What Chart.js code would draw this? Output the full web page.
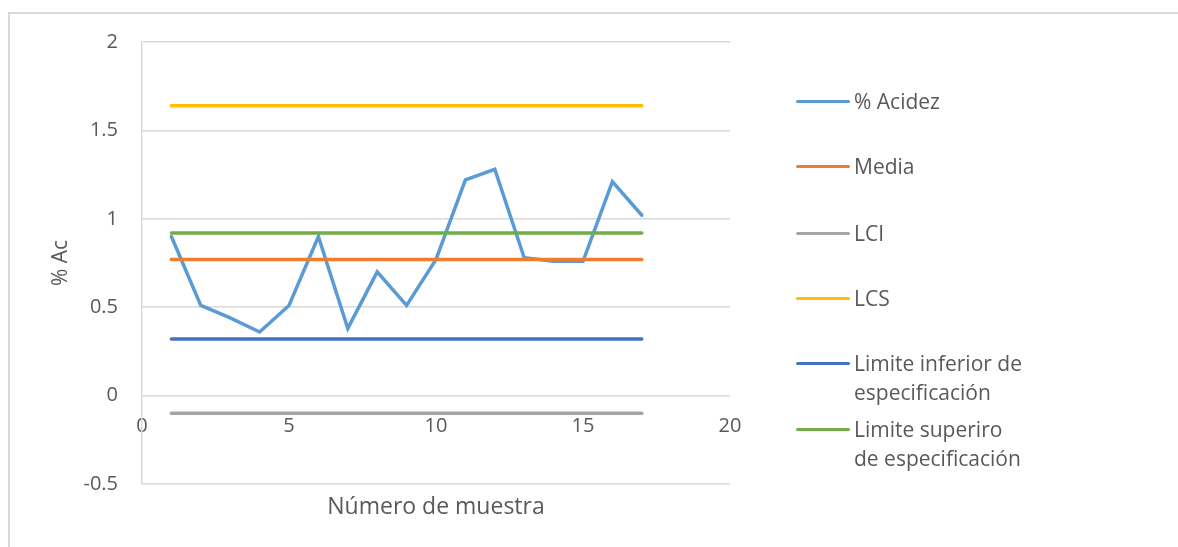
<!DOCTYPE html>
<html>
<head>
<meta charset="utf-8">
<script src="https://cdn.jsdelivr.net/npm/chart.js@4"></script>
<style>
  html, body { margin: 0; padding: 0; background: #fff; }
  #wrap { position: relative; width: 1178px; height: 547px; overflow: hidden; }
  #frame { position: absolute; left: 8px; top: 12px; width: 1180px; height: 560px;
           border-top: 2px solid #d9d9d9; border-left: 2px solid #d9d9d9; }
  #chart { position: absolute; left: 0; top: 0; }
  .legend { position: absolute; left: 796px; top: 0; font-family: "Open Sans", sans-serif;
            font-size: 21px; color: #595959; }
  .item { position: absolute; left: 0; white-space: nowrap; }
  .item .swatch { position: absolute; left: 0; width: 54px; height: 3.5px; border-radius: 2px; }
  .item .txt { position: absolute; left: 58px; line-height: 29px; }
</style>
</head>
<body>
<div id="wrap">
  <div id="frame"></div>
  <canvas id="chart" width="1178" height="547"></canvas>
  <div class="legend" id="legend"></div>
</div>
<script>
// sample number (x) and % acidez (y)
const sampleNumbers = [1, 2, 3, 4, 5, 6, 7, 8, 9, 10, 11, 12, 13, 14, 15, 16, 17];
const acidez = [0.90, 0.51, 0.44, 0.36, 0.51, 0.90, 0.38, 0.70, 0.51, 0.77, 1.22, 1.28, 0.78, 0.76, 0.76, 1.21, 1.02];

// control / specification limits (constant across samples)
const media = 0.77;
const lci = -0.10;
const lcs = 1.64;
const limiteInferior = 0.32;
const limiteSuperior = 0.92;

const xTicks = [0, 5, 10, 15, 20];
const yTicks = [-0.5, 0, 0.5, 1, 1.5, 2];

const seriesNames = ['% Acidez', 'Media', 'LCI', 'LCS', 'Limite inferior de\nespecificación', 'Limite superiro\nde especificación'];
const seriesColors = ['#5B9BD5', '#ED7D31', '#A5A5A5', '#FFC000', '#4472C4', '#70AD47'];

const fontFamily = '"Open Sans", sans-serif';
const textColor = '#595959';
const gridColor = '#d9d9d9';

const pts = vals => sampleNumbers.map((x, i) => ({ x, y: vals[i] }));
const flat = v => sampleNumbers.map(x => ({ x, y: v }));

const seriesData = [
    pts(acidez), flat(media), flat(lci), flat(lcs), flat(limiteInferior), flat(limiteSuperior)
];

const datasets = seriesData.map((d, i) => ({
    label: seriesNames[i],
    data: d,
    borderColor: seriesColors[i],
    backgroundColor: seriesColors[i],
    borderWidth: 3.5,
    pointRadius: 0,
    borderCapStyle: 'round',
    borderJoinStyle: 'miter',
    tension: 0,
    fill: false,
    order: seriesNames.length - i   // later series drawn on top, like the original
}));

new Chart(document.getElementById('chart').getContext('2d'), {
    type: 'line',
    data: { datasets },
    options: {
        responsive: false,
        animation: false,
        layout: { padding: { left: 48, top: 42, right: 448, bottom: 0 } },
        plugins: { legend: { display: false }, tooltip: { enabled: false } },
        scales: {
            x: {
                type: 'linear',
                position: { y: 0 },
                min: 0, max: 20,
                afterBuildTicks: s => { s.ticks = xTicks.map(v => ({ value: v })); },
                grid: { display: false },
                border: { display: false },
                ticks: { color: textColor, font: { family: fontFamily, size: 20 }, padding: 11, maxRotation: 0,
                         callback: v => String(v) }
            },
            x2: {
                type: 'linear',
                position: 'bottom',
                min: 0, max: 20,
                grid: { display: false },
                border: { display: false },
                ticks: { display: false },
                afterFit: s => { s.height = 63; },
                title: { display: true, text: 'Número de muestra', color: textColor,
                         font: { family: fontFamily, size: 23 }, padding: { top: 0, bottom: 26 } }
            },
            y: {
                min: -0.5, max: 2,
                afterBuildTicks: s => { s.ticks = yTicks.map(v => ({ value: v })); },
                grid: { color: gridColor, lineWidth: 1.5, drawTicks: false },
                border: { display: true, color: gridColor, width: 1.5 },
                afterFit: s => { s.width = 142 - 48; },
                ticks: { color: textColor, font: { family: fontFamily, size: 20 }, padding: 24,
                         callback: v => String(v) },
                title: { display: true, text: '% Ac', color: textColor,
                         font: { family: fontFamily, size: 21 }, padding: 0 }
            }
        }
    }
});

// legend on the right, built from the same series list
const legendRows = [101, 166, 233, 298, 363, 429];
const legendEl = document.getElementById('legend');
seriesNames.forEach((name, i) => {
    const item = document.createElement('div');
    item.className = 'item';
    item.style.top = (legendRows[i] - 14.5) + 'px';
    item.innerHTML = `<div class="swatch" style="background:${seriesColors[i]};top:13px"></div>` +
        `<div class="txt">${name.replace('\n', '<br>')}</div>`;
    legendEl.appendChild(item);
});
</script>
</body>
</html>
